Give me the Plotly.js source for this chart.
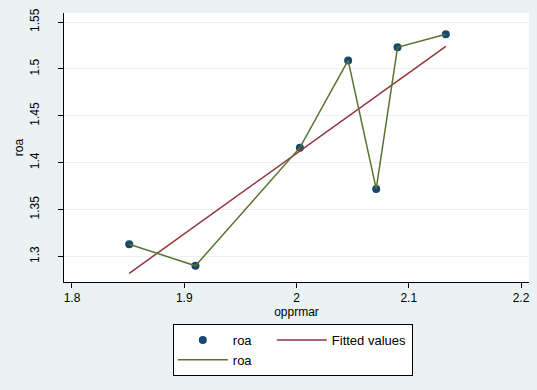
<!DOCTYPE html>
<html>
<head>
<meta charset="utf-8">
<script src="https://cdn.plot.ly/plotly-3.0.1.min.js"></script>
<style>html,body{margin:0;padding:0;background:#eaf2f3;}#chart{width:537px;height:390px;}</style>
</head>
<body>
<div id="chart"></div>
<script>
// Data
var opprmar = [1.851, 1.910, 2.003, 2.046, 2.071, 2.090, 2.133];
var roa     = [1.313, 1.290, 1.416, 1.509, 1.372, 1.523, 1.537];
var fittedX = [1.851, 2.133];
var fittedY = [1.282, 1.524];
var xTicks = [1.8, 1.9, 2, 2.1, 2.2];
var xTickText = ['1.8', '1.9', '2', '2.1', '2.2'];
var yTicks = [1.3, 1.35, 1.4, 1.45, 1.5, 1.55];
var yTickText = ['1.3', '1.35', '1.4', '1.45', '1.5', '1.55'];

var navy = '#1a476f', maroon = '#90353b', green = '#55752f', bg = '#eaf2f3';
var fontFam = 'Liberation Sans, Arial, sans-serif';

var traces = [
  {x: opprmar, y: roa, type: 'scatter', mode: 'markers', name: 'roa', legendgroup: 'col1',
   legendwidth: 34, marker: {color: navy, size: 8}},
  {x: fittedX, y: fittedY, type: 'scatter', mode: 'lines', name: 'Fitted values', legendgroup: 'col2',
   line: {color: maroon, width: 1.5}},
  {x: opprmar, y: roa, type: 'scatter', mode: 'lines', name: 'roa', legendgroup: 'col1',
   legendwidth: 34, line: {color: green, width: 1.5}}
];

var layout = {
  width: 537, height: 390,
  paper_bgcolor: bg, plot_bgcolor: '#ffffff',
  margin: {l: 64, r: 8, t: 13, b: 108, pad: 0},
  font: {family: fontFam, size: 12, color: '#000'},
  showlegend: true,
  xaxis: {
    range: [1.7929, 2.2071], tickvals: xTicks, ticktext: xTickText,
    showline: true, linecolor: '#000', linewidth: 1, mirror: false,
    ticks: 'outside', ticklen: 5, tickcolor: '#000', showgrid: false, zeroline: false,
    tickfont: {size: 12}, title: {text: 'opprmar', font: {size: 12}, standoff: 2}
  },
  yaxis: {
    range: [1.2727, 1.5596], tickvals: yTicks, ticktext: yTickText,
    showline: true, linecolor: '#000', linewidth: 1, mirror: false,
    ticks: 'outside', ticklen: 5, tickcolor: '#000', tickangle: -90,
    ticklabelstandoff: 14,
    showgrid: true, gridcolor: bg, gridwidth: 1, zeroline: false,
    tickfont: {size: 12}, title: {text: 'roa', font: {size: 12}, standoff: 2}
  },
  legend: {
    orientation: 'h', x: 0.234, xanchor: 'left', y: -0.156, yanchor: 'top',
    bgcolor: '#ffffff', bordercolor: '#000', borderwidth: 1,
    font: {size: 13}, itemwidth: 50, tracegroupgap: 10,
    traceorder: 'grouped'
  }
};

Plotly.newPlot('chart', traces, layout, {displayModeBar: false, staticPlot: true});
</script>
</body>
</html>
